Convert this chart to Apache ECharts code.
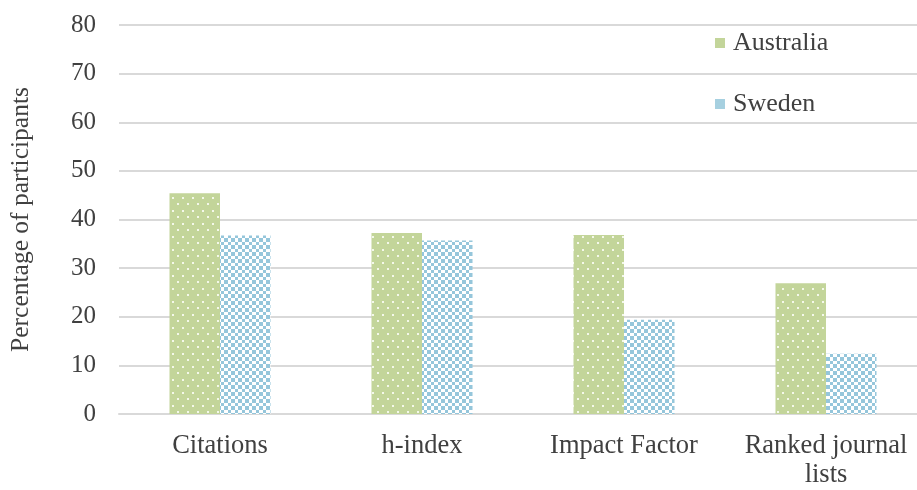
<!DOCTYPE html>
<html><head><meta charset="utf-8">
<script src="https://cdn.jsdelivr.net/npm/echarts@6/dist/echarts.min.js"></script>
<style>html,body{margin:0;padding:0;background:#fff;overflow:hidden;width:917px;height:490px}#c{width:930px;height:490px}</style>
</head><body><div id="c"></div>
<script>
const categories = ['Citations', 'h-index', 'Impact Factor', 'Ranked journal\nlists'];
const australia = [45.4, 37.2, 36.8, 26.9];
const sweden = [36.7, 35.7, 19.4, 12.4];
const yTicks = [0, 10, 20, 30, 40, 50, 60, 70, 80];

function dotPattern() {
  const c = document.createElement('canvas');
  c.width = 10; c.height = 13;
  const g = c.getContext('2d');
  g.fillStyle = '#c3d59a'; g.fillRect(0, 0, 10, 13);
  g.fillStyle = '#f4f8ea';
  g.fillRect(2, 2, 2, 2);
  g.fillRect(7, 8, 2, 2);
  return c;
}
function checkPattern() {
  const c = document.createElement('canvas');
  c.width = 7; c.height = 7;
  const g = c.getContext('2d');
  g.fillStyle = '#ffffff'; g.fillRect(0, 0, 7, 7);
  g.fillStyle = '#95c6db';
  g.fillRect(0, 0, 4, 4);
  g.fillRect(4, 4, 3, 3);
  return c;
}
const font = 'Liberation Serif';
const chart = echarts.init(document.getElementById('c'), null, {renderer: 'canvas'});
chart.setOption({
  animation: false,
  backgroundColor: '#fff',
  grid: {left: 115, width: 812, top: 25, height: 393, containLabel: false},
  legend: {
    orient: 'vertical', left: 710, top: 25, itemGap: 35,
    itemWidth: 10, itemHeight: 10, icon: 'rect',
    textStyle: {fontFamily: font, fontSize: 26, color: '#404040', padding: [0,0,0,3]},
    data: [
      {name: 'Australia', itemStyle: {color: '#c3d59a'}},
      {name: 'Sweden', itemStyle: {color: '#a6d0e0'}}
    ]
  },
  xAxis: {
    type: 'category', data: categories,
    axisLine: {lineStyle: {color: '#d9d9d9', width: 2}},
    axisTick: {show: false},
    axisLabel: {interval: 0, hideOverlap: false, fontFamily: font, fontSize: 26.5, color: '#404040', margin: 18, lineHeight: 29}
  },
  yAxis: {
    type: 'value', min: 0, max: 80, interval: 10,
    name: 'Percentage of participants', nameLocation: 'middle', nameGap: 85, nameRotate: 90,
    nameTextStyle: {fontFamily: font, fontSize: 25.5, color: '#404040'},
    axisLine: {show: false}, axisTick: {show: false},
    axisLabel: {fontFamily: font, fontSize: 25, color: '#404040', margin: 23,
      formatter: v => yTicks.includes(v) ? String(v) : ''},
    splitLine: {lineStyle: {color: '#d9d9d9', width: 2}}
  },
  series: [
    {name: 'Australia', type: 'bar', data: australia, barGap: '0%', barCategoryGap: '50%',
     itemStyle: {color: {image: dotPattern(), repeat: 'repeat'}}},
    {name: 'Sweden', type: 'bar', data: sweden,
     itemStyle: {color: {image: checkPattern(), repeat: 'repeat'}}}
  ]
});
</script></body></html>
